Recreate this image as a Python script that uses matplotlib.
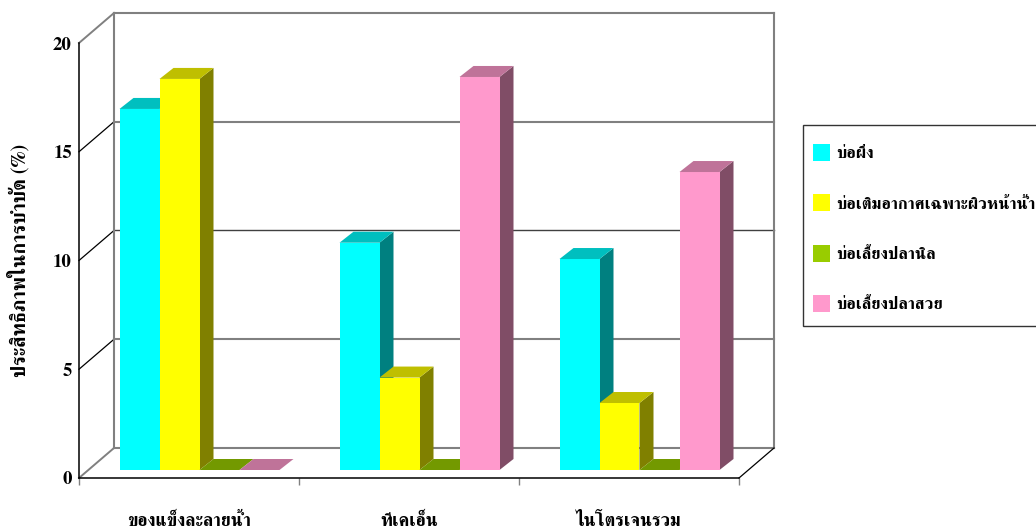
import matplotlib
matplotlib.use('Agg')
import matplotlib.pyplot as plt
from matplotlib.patches import Patch, Rectangle

plt.rcParams['font.family'] = ['FreeSerif', 'DejaVu Sans']
plt.rcParams['font.weight'] = 'bold'

# ข้อมูล
categories = ['ของแข็งละลายน้ำ', 'ทีเคเอ็น', 'ไนโตรเจนรวม']
series_names = ['บ่อผึ่ง', 'บ่อเติมอากาศเฉพาะผิวหน้าน้ำ', 'บ่อเลี้ยงปลานิล', 'บ่อเลี้ยงปลาสวย']
pond_fill = [16.6, 10.45, 9.7]
pond_aerated = [17.98, 4.25, 3.08]
pond_tilapia = [0, 0, 0]
pond_ornamental = [0, 18.07, 13.7]
y_ticks = [0, 5, 10, 15, 20]

# สีหน้า บน ข้าง
front_colors = ['#00FFFF', '#FFFF00', '#99CC00', '#FF99CC']
top_colors = ['#00BFBF', '#BFBF00', '#739900', '#BF7399']
side_colors = ['#008080', '#808000', '#4D6600', '#804D66']

# ขนาดเป็นพิกเซลของรูปต้นฉบับ
W, H = 1036, 532
AX_L, AX_R, AX_T, AX_B = 79, 739, 43, 478
PX_X = 3 / (AX_R - AX_L)
PX_Y = 20 / (AX_B - AX_T)
WALL_DX, WALL_DY = 35 * PX_X, 30 * PX_Y
BAR_DX, BAR_DY = 14 * PX_X, 11 * PX_Y
BAR_W = 40 * PX_X
BAR_START = 40.5 * PX_X
BAR_BASE = 8 * PX_Y
GRAY = '#808080'


def draw_bar(ax, left, value, k):
    top = BAR_BASE + value
    right = left + BAR_W
    if value > 0:
        ax.fill([right, right + BAR_DX, right + BAR_DX, right],
                [BAR_BASE, BAR_BASE + BAR_DY, top + BAR_DY, top],
                color=side_colors[k], lw=0, clip_on=False, zorder=3)
        ax.fill([left, right, right, left], [BAR_BASE, BAR_BASE, top, top],
                color=front_colors[k], lw=0, clip_on=False, zorder=3)
    ax.fill([left, right, right + BAR_DX, left + BAR_DX],
            [top, top, top + BAR_DY, top + BAR_DY],
            color=top_colors[k], lw=0, clip_on=False, zorder=3)


def main():
    fig = plt.figure(figsize=(W / 100, H / 100), dpi=100)
    ax = fig.add_axes([AX_L / W, 1 - AX_B / H, (AX_R - AX_L) / W, (AX_B - AX_T) / H])
    ax.set_xlim(0, 3)
    ax.set_ylim(0, 20)
    ax.patch.set_visible(False)

    # ผนังหลังและเส้นกริด
    for v in y_ticks:
        thin = v == 10
        ax.plot([WALL_DX, 3 + WALL_DX], [v + WALL_DY] * 2, clip_on=False, zorder=1,
                color='#404040' if thin else GRAY, lw=1 if thin else 1.5)
        inner = v in (5, 10, 15)
        ax.plot([0, WALL_DX], [v, v + WALL_DY], clip_on=False, zorder=1,
                color='black' if inner else GRAY, lw=0.9 if inner else 1.4)
    ax.plot([WALL_DX, WALL_DX], [WALL_DY, 20 + WALL_DY], color=GRAY, lw=1.5,
            clip_on=False, zorder=1)
    ax.plot([3 + WALL_DX, 3 + WALL_DX], [WALL_DY, 20 + WALL_DY], color=GRAY, lw=1.5,
            clip_on=False, zorder=1)
    ax.plot([3, 3 + WALL_DX], [0, WALL_DY], color='black', lw=0.9, clip_on=False, zorder=1)

    # วาดแท่ง
    all_series = [pond_fill, pond_aerated, pond_tilapia, pond_ornamental]
    for i in range(len(categories)):
        for k, values in enumerate(all_series):
            draw_bar(ax, i + BAR_START + k * BAR_W, values[i], k)

    # แกน
    ax.spines['top'].set_visible(False)
    ax.spines['right'].set_visible(False)
    ax.spines['left'].set_linewidth(1.1)
    ax.spines['bottom'].set_linewidth(1.1)
    ax.spines['left'].set_zorder(4)
    ax.spines['bottom'].set_zorder(4)
    ax.set_yticks(y_ticks)
    ax.set_yticklabels([str(v) for v in y_ticks], fontsize=13.5, fontweight='bold')
    ax.tick_params(axis='y', length=0, pad=5)
    ax.set_xticks([0, 1, 2, 3])
    ax.set_xticklabels([])
    ax.tick_params(axis='x', which='major', length=5, width=1, color=GRAY)
    ax.set_xticks([0.5, 1.5, 2.5], minor=True)
    ax.set_xticklabels(categories, minor=True, fontsize=13, fontweight='bold')
    ax.tick_params(axis='x', which='minor', length=0, pad=25)
    ax.set_ylabel('ประสิทธิภาพในการบำบัด (%)', fontsize=14.3, fontweight='bold', labelpad=17)

    # คำอธิบายสัญลักษณ์
    fig.add_artist(Rectangle((803 / W, 1 - 326 / H), 240 / W, 201 / H, transform=fig.transFigure,
                             facecolor='white', edgecolor='#333333', lw=1))
    handles = [Patch(facecolor=c, edgecolor='none', label=n)
               for c, n in zip(front_colors, series_names)]
    fig.legend(handles=handles, loc='upper left', bbox_to_anchor=(813 / W, 1 - 144 / H),
               bbox_transform=fig.transFigure, frameon=False,
               borderaxespad=0, borderpad=0, prop={'size': 12, 'weight': 'bold'},
               labelspacing=2.0, handlelength=1.02, handleheight=1.19,
               handletextpad=0.35)

    fig.savefig('out.png', dpi=100)


if __name__ == "__main__":
    main()
